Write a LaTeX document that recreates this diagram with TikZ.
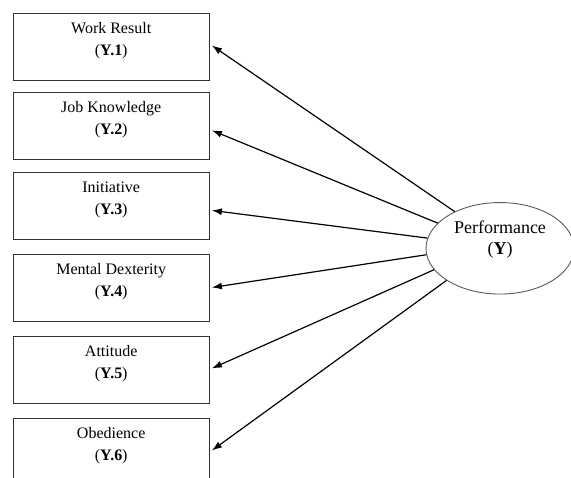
\documentclass[tikz,border=0pt]{standalone}
\usepackage{fontspec}
\setmainfont{Liberation Serif}
\usetikzlibrary{shapes.geometric,arrows.meta}
\tikzset{
  box/.style={draw=black!80, line width=0.9pt, inner sep=0pt, anchor=north west,
    font=\fontsize{16}{22}\selectfont},
  perfnode/.style={ellipse, draw=black!65, line width=0.9pt, inner sep=0pt,
    minimum width=148pt, minimum height=91.5pt, font=\fontsize{18}{21}\selectfont},
  arr/.style={line width=1.2pt, -{Latex[length=10pt,width=7pt]}}
}
\newcommand{\boxtext}[2]{\parbox[t][67.5pt][t]{196.5pt}{\centering\rule{0pt}{20pt}#1\\(\textbf{#2})}}
\begin{document}
\begin{tikzpicture}[x=1pt,y=-1pt]
\useasboundingbox (0,0) rectangle (571,478);
\clip (0,0) rectangle (571,478);
\node[box] (b1) at (12.5,12.7) {\boxtext{Work Result}{Y.1}};
\node[box] (b2) at (12.5,92) {\boxtext{Job Knowledge}{Y.2}};
\node[box] (b3) at (12.5,171.7) {\boxtext{Initiative}{Y.3}};
\node[box] (b4) at (12.5,254) {\boxtext{Mental Dexterity}{Y.4}};
\node[box] (b5) at (12.5,335.7) {\boxtext{Attitude}{Y.5}};
\node[box] (b6) at (12.5,418) {\boxtext{Obedience}{Y.6}};
\node[perfnode] (perf) at (500,248.3) {\parbox[c][54pt][t]{100pt}{\centering\rule{0pt}{12.7pt}Performance\\(\textbf{Y})}};
\draw[arr] (perf.141) -- ([xshift=2pt,yshift=1.4pt]b1.east);
\draw[arr] (perf.158) -- ([xshift=2pt,yshift=-4.2pt]b2.east);
\draw[arr] (perf.172) -- ([xshift=2pt,yshift=-4.5pt]b3.east);
\draw[arr] (perf.185) -- ([xshift=2pt,yshift=0.7pt]b4.east);
\draw[arr] (perf.198) -- ([xshift=2pt,yshift=1.5pt]b5.east);
\draw[arr] (perf.211) -- ([xshift=2pt,yshift=1.7pt]b6.east);
\end{tikzpicture}
\end{document}
